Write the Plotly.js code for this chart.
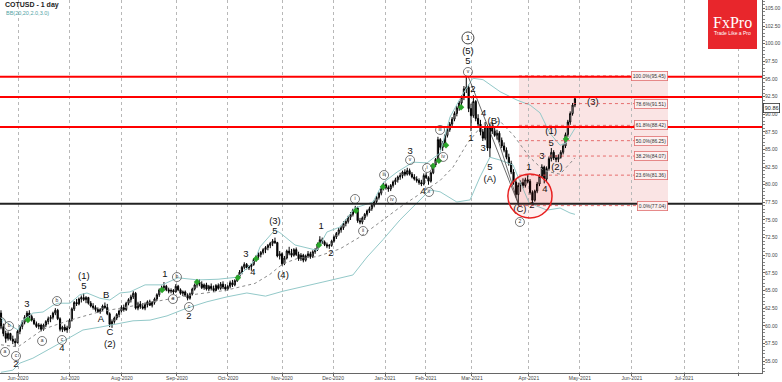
<!DOCTYPE html>
<html><head><meta charset="utf-8">
<script src="https://cdn.plot.ly/plotly-3.0.1.min.js"></script>
<style>html,body{margin:0;padding:0;background:#fff}#chart{width:782px;height:382px}</style>
</head><body><div id="chart"></div>
<script>
// ---- daily candles (bar index = trading day) ----
const openP = [61.8,59.8,58.9,58.2,58.9,58.1,57.8,57.6,59.2,59.9,
60.5,61.2,61.8,61.3,60.8,60.3,59.9,60.1,59.5,60.1,
60.6,61.0,61.2,61.8,62.2,61.0,59.5,59.8,59.4,59.7,
60.8,62.4,63.3,63.1,63.8,64.0,63.7,64.0,63.2,62.8,
62.6,62.3,62.0,62.3,62.8,62.6,61.7,60.2,60.6,61.1,
61.6,62.1,62.6,62.3,63.2,63.7,64.1,64.6,62.5,63.1,
62.7,62.5,63.0,63.4,62.9,63.3,63.8,64.4,65.1,65.4,
65.6,65.1,64.9,65.0,64.8,65.6,65.1,64.6,64.8,64.3,
63.9,64.5,65.2,65.8,66.2,65.9,65.4,65.8,65.2,65.6,
65.3,65.0,65.7,65.3,65.9,65.5,65.2,65.6,66.1,65.8,
66.4,67.0,67.6,68.3,68.7,68.2,68.4,68.7,69.4,69.8,
70.1,70.4,70.8,71.1,71.4,71.7,72.0,71.8,69.9,70.2,
68.8,69.6,70.6,70.3,70.0,70.8,70.1,69.5,70.0,69.3,
69.9,70.2,69.8,70.5,70.8,71.6,72.2,71.9,71.5,71.3,
71.4,72.0,72.6,73.1,73.6,73.9,74.5,74.8,75.4,75.8,
76.4,76.7,74.9,74.7,75.3,75.8,76.3,76.6,77.1,77.6,
78.2,78.8,79.5,80.0,79.6,79.4,79.9,80.4,80.7,81.1,
81.3,81.8,81.5,82.0,81.5,81.1,80.8,80.6,80.3,80.1,
81.3,81.0,80.5,81.7,82.8,83.6,86.4,85.3,85.9,87.0,
87.8,88.6,89.3,90.1,90.9,91.6,92.4,93.6,93.8,90.8,
89.8,91.8,89.4,88.6,87.5,86.6,88.2,85.2,88.1,87.6,
87.0,87.3,86.3,85.5,84.9,83.9,83.0,81.8,80.4,78.6,
79.9,80.3,79.9,80.7,80.5,78.9,77.8,79.1,80.1,81.2,
82.5,80.8,82.3,83.7,84.6,83.8,83.6,83.9,84.6,85.5,
87.1,88.9,90.1,91.3];
const highP = [62.2,60.3,59.3,59.2,59.0,58.6,58.2,59.4,60.1,60.8,
61.5,62.1,62.2,61.6,61.1,60.6,60.4,60.3,60.3,60.8,
61.3,61.5,62.0,62.5,62.4,61.2,60.0,60.2,60.0,61.0,
62.6,63.5,63.8,64.0,64.3,64.6,64.2,64.1,63.5,63.2,
62.9,62.6,62.5,63.0,63.3,63.1,61.9,60.9,61.3,61.8,
62.3,62.9,63.0,63.4,63.9,64.4,64.9,64.8,63.4,63.5,
63.2,63.3,63.6,63.7,63.5,64.0,64.6,65.3,65.7,66.2,
65.8,65.4,65.3,65.2,65.9,65.8,65.3,65.0,65.0,64.6,
64.7,65.4,66.0,66.5,66.6,66.3,66.0,66.1,65.8,66.0,
65.7,65.9,66.0,66.2,66.3,65.9,65.8,66.4,66.5,66.6,
67.2,67.9,68.5,69.0,68.9,68.6,68.9,69.6,70.0,70.4,
70.6,71.0,71.3,71.6,71.9,72.3,72.5,71.9,70.6,70.4,
69.9,70.8,71.2,70.9,71.0,71.1,70.5,70.3,70.2,70.1,
70.6,70.5,70.7,71.0,71.8,72.7,72.5,72.1,71.8,71.6,
72.2,72.8,73.3,73.9,74.2,74.8,75.1,75.6,76.1,76.6,
77.0,76.9,75.3,75.5,76.0,76.5,76.9,77.4,77.8,78.4,
79.0,79.7,80.4,80.2,79.9,80.1,80.6,81.0,81.3,81.7,
82.0,82.2,82.4,82.3,81.8,81.5,81.2,80.9,80.7,81.6,
81.7,81.2,81.9,83.0,83.8,86.8,86.6,86.2,87.2,88.0,
88.9,89.6,90.4,91.2,91.9,92.7,94.0,95.45,94.2,91.5,
92.7,92.0,90.0,89.2,87.9,88.9,88.5,88.7,88.9,88.3,
87.8,87.6,86.7,86.0,85.3,84.4,83.4,82.2,80.8,80.3,
80.6,80.9,81.0,81.4,80.8,79.2,79.3,80.4,81.5,82.9,
82.7,82.6,84.0,85.2,84.9,84.2,84.3,84.9,85.8,87.4,
89.2,90.4,91.6,92.45];
const lowP = [59.5,58.5,57.6,57.9,57.9,57.4,57.0,57.5,58.8,59.5,
60.2,60.9,61.0,60.6,60.1,59.7,59.5,59.2,59.3,59.8,
60.2,60.5,60.9,61.5,60.8,59.2,59.1,59.2,59.0,59.5,
60.6,62.1,62.8,62.9,63.3,63.5,63.2,63.0,62.6,62.3,
62.0,61.8,61.7,62.1,62.4,61.5,59.8,59.7,60.3,60.8,
61.2,61.9,62.0,62.1,62.9,63.3,63.8,62.3,62.2,62.4,
62.3,62.2,62.6,62.8,62.6,63.0,63.5,64.1,64.8,65.0,
64.9,64.6,64.6,64.5,64.7,64.9,64.4,64.2,64.1,63.6,
63.7,64.3,65.0,65.4,65.6,65.2,65.1,65.0,64.9,65.0,
64.8,64.9,65.1,65.1,65.2,64.9,65.0,65.3,65.5,65.6,
66.2,66.8,67.3,68.0,68.0,67.9,67.8,68.5,69.1,69.4,
69.7,70.1,70.3,70.7,71.0,71.3,71.6,69.7,69.4,68.5,
68.6,69.4,70.0,69.7,69.8,69.9,69.2,69.2,69.0,69.1,
69.6,69.5,69.6,70.2,70.6,71.4,71.6,71.3,71.0,70.9,
71.2,71.8,72.3,72.8,73.2,73.6,74.1,74.5,75.0,75.5,
76.0,74.6,74.4,74.4,75.0,75.5,76.0,76.3,76.8,77.3,
77.9,78.5,79.2,79.3,79.0,79.1,79.6,80.0,80.3,80.7,
80.9,81.2,81.3,81.3,80.9,80.6,80.3,80.0,79.8,79.9,
80.8,80.0,80.3,81.5,82.5,83.4,84.9,84.8,85.6,86.7,
87.5,88.2,89.0,89.7,90.5,91.3,92.0,93.0,90.3,87.6,
89.5,89.0,88.2,87.0,86.2,86.3,84.8,83.9,87.2,86.8,
86.4,86.0,85.2,84.6,83.6,82.7,81.5,80.0,78.2,77.04,
79.0,79.5,79.6,80.2,78.6,77.3,77.6,78.8,79.8,81.0,
80.2,80.5,82.0,83.3,83.5,83.2,83.2,83.7,84.3,85.2,
86.8,88.5,89.8,91.0];
const closeP = [59.8,58.9,58.2,58.9,58.1,57.8,57.6,59.2,59.9,60.5,
61.2,61.8,61.3,60.8,60.3,59.9,60.1,59.5,60.1,60.6,
61.0,61.2,61.8,62.2,61.0,59.5,59.8,59.4,59.7,60.8,
62.4,63.3,63.1,63.8,64.0,63.7,64.0,63.2,62.8,62.6,
62.3,62.0,62.3,62.8,62.6,61.7,60.2,60.6,61.1,61.6,
62.1,62.6,62.3,63.2,63.7,64.1,64.6,62.5,63.1,62.7,
62.5,63.0,63.4,62.9,63.3,63.8,64.4,65.1,65.4,65.6,
65.1,64.9,65.0,64.8,65.6,65.1,64.6,64.8,64.3,63.9,
64.5,65.2,65.8,66.2,65.9,65.4,65.8,65.2,65.6,65.3,
65.0,65.7,65.3,65.9,65.5,65.2,65.6,66.1,65.8,66.4,
67.0,67.6,68.3,68.7,68.2,68.4,68.7,69.4,69.8,70.1,
70.4,70.8,71.1,71.4,71.7,72.0,71.8,69.9,70.2,68.8,
69.6,70.6,70.3,70.0,70.8,70.1,69.5,70.0,69.3,69.9,
70.2,69.8,70.5,70.8,71.6,72.2,71.9,71.5,71.3,71.4,
72.0,72.6,73.1,73.6,73.9,74.5,74.8,75.4,75.8,76.4,
76.7,74.9,74.7,75.3,75.8,76.3,76.6,77.1,77.6,78.2,
78.8,79.5,80.0,79.6,79.4,79.9,80.4,80.7,81.1,81.3,
81.8,81.5,82.0,81.5,81.1,80.8,80.6,80.3,80.1,81.3,
81.0,80.5,81.7,82.8,83.6,86.4,85.3,85.9,87.0,87.8,
88.6,89.3,90.1,90.9,91.6,92.4,93.6,93.8,90.8,89.8,
91.8,89.4,88.6,87.5,86.6,88.2,85.2,88.1,87.6,87.0,
87.3,86.3,85.5,84.9,83.9,83.0,81.8,80.4,78.6,79.9,
80.3,79.9,80.7,80.5,78.9,77.8,79.1,80.1,81.2,82.5,
80.8,82.3,83.7,84.6,83.8,83.6,83.9,84.6,85.5,87.1,
88.9,90.1,91.3,92.2];
const bars = openP.map((_, i) => i);

// ---- Bollinger bands (bar index, price) ----
const upperBar = [0,3.8,7.2,9.3,13.5,17.8,22,24.1,29.2,33.4,36.4,41.9,46.1,50.4,54.6,61,68.2,74.9,83.4,91.9,100.3,107.5,109.7,116,118.1,124.5,133.8,138,143.5,149.9,157.5,161.7,167.7,174.4,180.4,185.9,190.1,195.2,199.8,204.1,211.3,218.5,224,228.2,232.4,236.7,239.2,243];
const upperVal = [61.1,60.1,59.4,60.8,61.8,61.95,62.9,63.2,63.2,64.4,64.65,63.9,63.65,64.65,64.8,65.8,65.8,66.8,66.5,66.6,66.9,69.3,71.2,73.6,73.2,71.45,70.7,73.3,74.0,76.7,77.55,80.25,81.8,83.2,83.1,84.5,89.6,92.7,95.1,94.9,93.2,92.0,91.3,90.2,87.3,85.6,85.9,88.0];
const midBar = [0,7.2,17.8,29.2,41.9,52.5,66.5,80.9,94.8,107.5,113.9,119.4,126,133.8,143.5,152,160.5,168.9,178.7,185.9,191.4,197.3,204.1,211.3,217,223.6,229.8,236.7,243];
const midVal = [57.3,57.0,59.5,60.8,62.0,62.6,63.5,64.4,65.0,66.0,67.3,68.8,69.6,69.8,70.9,72.6,74.7,76.8,79.0,80.6,82.5,85.8,88.6,89.0,87.0,84.0,82.0,81.5,83.8];
const lowerBar = [0,5,8,13.5,23.7,29.2,34.7,41.9,49.1,55.9,63.1,70.3,78.7,87.2,95.7,104.1,112,119.4,136.3,149,155,161.7,168.9,176.1,181.6,185.9,193,198.6,202.8,207,211.3,216.8,223.6,231.2,236.7,240.9,243];
const lowerVal = [53.4,53.7,54.7,55.4,57.3,58.3,59.4,59.8,60.25,60.7,60.8,61.4,62.5,63.4,64.1,64.65,64.2,64.9,66.2,67.2,69.75,72.2,75.0,77.4,79.25,79.0,77.55,77.85,81.1,83.9,83.5,82.8,77.4,76.4,76.7,76.0,75.8];

// ---- wave trend lines ----
const trendA_bar = [197.7, 219.3], trendA_val = [95.45, 77.04];
const trendB_bar = [208.3, 219.3], trendB_val = [88.6, 77.04];

// ---- green signal markers ----
const sigBar = [11.4,68.2,83,100.3,108,134.6,150.3,161.7,182.9,185.4,188.4,194.8,239.2];
const sigVal = [60.8,65.07,66.2,66.8,69.5,71.45,76.3,79.7,82.66,83.4,85.6,91.0,86.5];

// ---- Elliott wave labels ----
const waveText = ["2","3","4","5","(1)","A","B","C","(2)","1","2","3","4","5","(3)","(4)","1","2","3","4","5","(5)","1","2","3","4","(B)","5","(A)","(C)","1","2","3","4","5","(1)","(2)","(3)"];
const waveBar  = [6.35,11.0,25.8,35.1,35.1,42.3,44.5,46.1,46.1,69.4,79.6,103.7,106.7,116.0,116.0,119.4,135.5,139.7,173.2,178.7,197.7,197.7,199.0,199.8,204.1,204.4,208.7,207.0,207.0,219.7,223.5,224.8,229.0,230.3,232.9,232.9,235.4,250.6];
const waveVal  = [54.43,62.94,56.70,65.50,66.91,60.82,64.22,58.97,57.27,67.20,61.24,70.04,67.48,73.30,74.72,67.06,74.01,70.18,84.65,78.97,97.41,98.83,86.49,93.44,85.07,90.10,88.95,82.38,80.67,76.40,82.38,76.99,83.94,79.26,85.80,87.55,82.38,91.60];
const circText = ["b","a","b","c","a","b","c","a","b","c","i","ii","iii","iv","v","i","ii","iii","iv","v","2"];
const circBar  = [0,1.7,3.4,6.35,17.4,23.7,25.8,72.8,74.5,79.6,149.9,153.3,162.2,165.5,173.2,180.4,181.2,185.9,187.2,197.7,219.7];
const circVal  = [60.53,56.28,59.96,55.71,57.84,63.51,57.98,63.79,66.91,62.66,77.98,73.44,81.38,77.84,83.51,82.38,78.97,87.77,83.94,95.99,74.72];
const bigCircText = ["1"], bigCircBar = [197.7], bigCircVal = [100.82];

// ---- levels & fibonacci ----
const redLevels = [95.3, 92.45, 88.2];
const blackLevels = [77.3];
const fibVals = [95.45, 91.51, 88.42, 86.25, 84.07, 81.36, 77.04];
const fibText = ["100.0%(95.45)","78.6%(91.51)","61.8%(88.42)","50.0%(86.25)","38.2%(84.07)","23.6%(81.36)","0.0%(77.04)"];
const fibStartBar = 219.3, fibEndBar = 282.4;
const circleBox = [214.6, 233.3, 75.28, 81.52];

// ---- axes ----
const monthBars = [7.2,29.2,51.2,74.5,96.1,119.0,140.6,162.6,179.9,199.4,223.5,245.1,267.1,289.2,312.4];
const monthText = ["Jun-2020","Jul-2020","Aug-2020","Sep-2020","Oct-2020","Nov-2020","Dec-2020","Jan-2021","Feb-2021","Mar-2021","Apr-2021","May-2021","Jun-2021","Jul-2021",""];
const yTicks = [55,57.5,60,62.5,65,67.5,70,72.5,75,77.5,80,82.5,85,87.5,90,92.5,95,97.5,100,102.5,105];
const lastPriceLabel = "90.86", lastPriceVal = 90.86;

const FONT = "Liberation Sans, Arial, sans-serif";
const traces = [
  {type:'scatter', mode:'lines', x:upperBar, y:upperVal, line:{color:'#93c9c9', width:1}, hoverinfo:'skip'},
  {type:'scatter', mode:'lines', x:lowerBar, y:lowerVal, line:{color:'#93c9c9', width:1}, hoverinfo:'skip'},
  {type:'scatter', mode:'lines', x:midBar, y:midVal, line:{color:'#8a8a8a', width:1, dash:'dot'}, hoverinfo:'skip'},
  {type:'scatter', mode:'lines', x:trendA_bar, y:trendA_val, line:{color:'#444', width:0.8}, hoverinfo:'skip'},
  {type:'scatter', mode:'lines', x:trendB_bar, y:trendB_val, line:{color:'#444', width:0.8}, hoverinfo:'skip'},
  {type:'candlestick', x:bars, open:openP, high:highP, low:lowP, close:closeP,
   increasing:{line:{color:'#000', width:1}, fillcolor:'#ffffff'},
   decreasing:{line:{color:'#000', width:1}, fillcolor:'#000000'},
   whiskerwidth:0, hoverinfo:'skip'},
  {type:'scatter', mode:'markers', x:sigBar, y:sigVal, marker:{symbol:'diamond', size:5, color:'#2aa52a'}, hoverinfo:'skip'},
  {type:'scatter', mode:'text', x:waveBar, y:waveVal, text:waveText, textposition:'middle center',
   textfont:{family:FONT, size:9.5, color:'#111'}, hoverinfo:'skip', cliponaxis:false},
  {type:'scatter', mode:'markers+text', x:circBar, y:circVal, text:circText, textposition:'middle center',
   marker:{symbol:'circle-open', size:9, color:'#555', line:{width:0.8}},
   textfont:{family:FONT, size:5, color:'#333'}, hoverinfo:'skip'},
  {type:'scatter', mode:'markers+text', x:bigCircBar, y:bigCircVal, text:bigCircText, textposition:'middle center',
   marker:{symbol:'circle-open', size:12, color:'#333', line:{width:0.9}},
   textfont:{family:FONT, size:8, color:'#111'}, hoverinfo:'skip'}
];

const shapes = [];
shapes.push({type:'rect', xref:'x', yref:'y', x0:fibStartBar, x1:fibEndBar, y0:fibVals[fibVals.length-1], y1:fibVals[0],
  fillcolor:'rgba(232,120,120,0.2)', line:{width:0}, layer:'below'});
fibVals.forEach(v => shapes.push({type:'line', xref:'x', yref:'y', x0:fibStartBar, x1:fibEndBar, y0:v, y1:v,
  line:{color:'rgba(225,80,80,0.8)', width:1, dash:'dot'}}));
redLevels.forEach(v => shapes.push({type:'line', xref:'paper', yref:'y', x0:0, x1:1, y0:v, y1:v, line:{color:'#ff0000', width:2}}));
blackLevels.forEach(v => shapes.push({type:'line', xref:'paper', yref:'y', x0:0, x1:1, y0:v, y1:v, line:{color:'#222', width:2}}));
shapes.push({type:'circle', xref:'x', yref:'y', x0:circleBox[0], x1:circleBox[1], y0:circleBox[2], y1:circleBox[3],
  line:{color:'#e82020', width:1.5}, fillcolor:'rgba(255,0,0,0.06)'});
// FxPro logo box
shapes.push({type:'rect', xref:'paper', yref:'paper', x0:708/762, x1:757/762, y0:1-49/373, y1:1.0,
  fillcolor:'#e8262c', line:{width:0}});

const annotations = [];
fibText.forEach((t, k) => annotations.push({xref:'x', yref:'y', x:fibEndBar, y:fibVals[k], text:t, showarrow:false,
  xanchor:'right', yanchor:'middle', font:{family:FONT, size:5, color:'#333'},
  bgcolor:'#fdf0f0', bordercolor:'#e07070', borderwidth:0.8, borderpad:1}));
annotations.push({xref:'paper', yref:'paper', x:3/762, y:1-5/373, xanchor:'left', yanchor:'middle', showarrow:false,
  text:'<b>COTUSD - 1 day</b>', font:{family:FONT, size:7, color:'#222'}});
annotations.push({xref:'paper', yref:'paper', x:4/762, y:1-13/373, xanchor:'left', yanchor:'middle', showarrow:false,
  text:'BB(20,20,2.0,3.0)', font:{family:FONT, size:5.5, color:'#4fa3a5'}});
annotations.push({xref:'paper', yref:'paper', x:732.5/762, y:1-22/373, xanchor:'center', yanchor:'middle', showarrow:false,
  text:'FxPro', font:{family:'Liberation Serif, DejaVu Serif, serif', size:16, color:'#ffffff'}});
annotations.push({xref:'paper', yref:'paper', x:732.5/762, y:1-33/373, xanchor:'center', yanchor:'middle', showarrow:false,
  text:'Trade Like a Pro', font:{family:FONT, size:5, color:'#ffffff'}});
annotations.push({xref:'paper', yref:'y', x:1, y:lastPriceVal, xanchor:'left', yanchor:'middle', showarrow:false,
  text:lastPriceLabel, font:{family:FONT, size:5.5, color:'#222'}, bgcolor:'#ffffff', bordercolor:'#333', borderwidth:0.8, borderpad:1, xshift:1});

const layout = {
  width:782, height:382,
  margin:{l:0, r:20, t:0, b:9, pad:0},
  paper_bgcolor:'#ffffff', plot_bgcolor:'#ffffff',
  showlegend:false, hovermode:false,
  xaxis:{type:'linear', range:[-0.42, 322.2], tickmode:'array', tickvals:monthBars, ticktext:monthText,
    tickfont:{family:FONT, size:5, color:'#444'}, ticklabelstandoff:-2, showgrid:true, gridcolor:'#b8b8b8', griddash:'3px,3px', gridwidth:1,
    showline:true, linecolor:'#666', linewidth:1, ticks:'outside', ticklen:2, tickcolor:'#666',
    rangeslider:{visible:false}, zeroline:false, fixedrange:true},
  yaxis:{side:'right', range:[53.3, 106.2], tickmode:'array', tickvals:yTicks, tickformat:'.2f',
    tickfont:{family:FONT, size:5, color:'#444'}, ticklabelstandoff:-1, showgrid:false, showline:true, linecolor:'#666', linewidth:1,
    ticks:'outside', ticklen:2, tickcolor:'#666', zeroline:false, fixedrange:true,
    minor:{ticks:'outside', ticklen:1.5, tickcolor:'#888', dtick:0.5, showgrid:false}},
  shapes:shapes, annotations:annotations
};
Plotly.newPlot('chart', traces, layout, {staticPlot:true, displayModeBar:false});
</script></body></html>
